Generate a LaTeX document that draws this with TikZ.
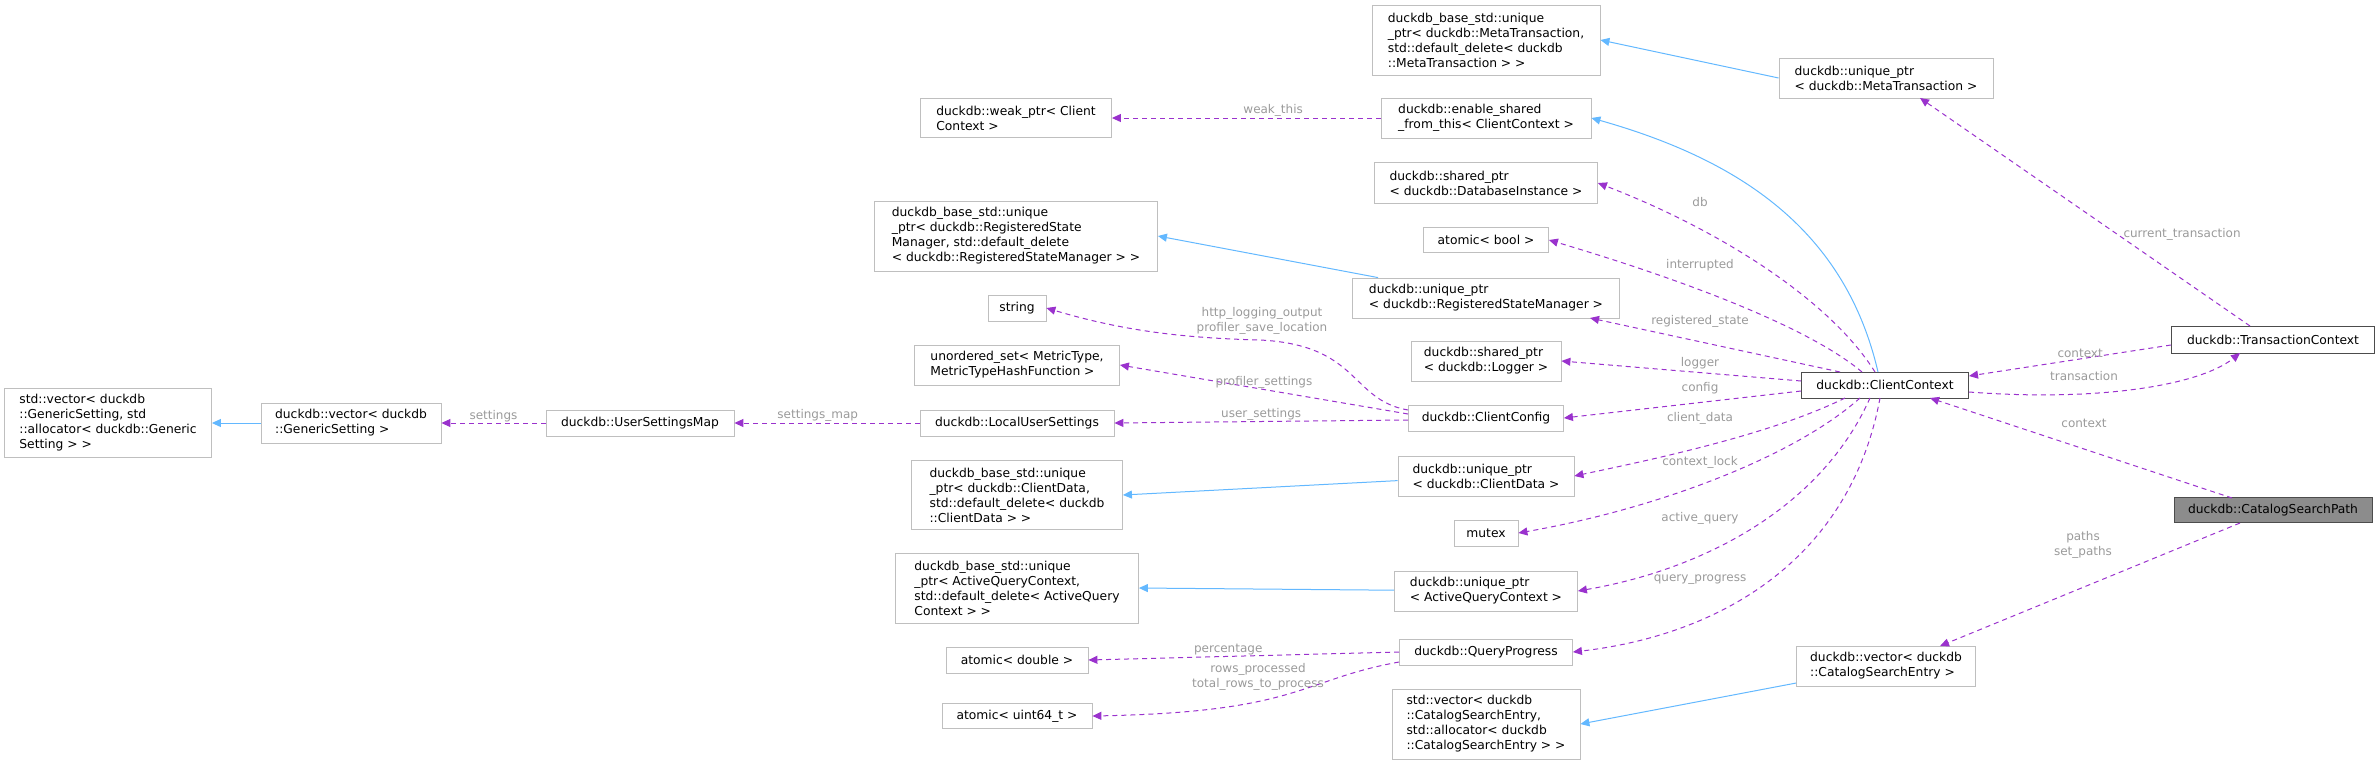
\documentclass[tikz,border=0pt]{standalone}
\usepackage{fontspec}
\setmainfont{DejaVu Sans}
\usetikzlibrary{arrows.meta}
\definecolor{inh}{HTML}{63B8FF}
\definecolor{use}{HTML}{9A32CD}
\definecolor{lbl}{HTML}{9A9A9A}
\definecolor{bd}{HTML}{BFBFBF}
\begin{document}
\begin{tikzpicture}[x=1pt,y=-1pt,
 box/.style={draw=bd,line width=0.8pt,fill=white,font=\fontsize{12.3}{15}\selectfont,align=left,inner sep=0pt},
 inhe/.style={draw=inh,line width=1pt,-{Triangle[length=9pt,width=8pt]}},
 usee/.style={draw=use,line width=1pt,dashed,dash pattern=on 5pt off 4pt,-{Triangle[length=9pt,width=8pt]}},
 lab/.style={text=lbl,font=\fontsize{12}{14.5}\selectfont,align=center,inner sep=1pt}]
\useasboundingbox (0,0) rectangle (2380,764);
\def\bx#1#2#3#4#5#6{\node[box,minimum width=#4pt,minimum height=#5pt] (#1) at (#2,#3) {#6};}
\bx{bm}{1486}{40}{228}{70}{duckdb\_base\_std::unique\\\_ptr< duckdb::MetaTransaction,\\std::default\_delete< duckdb\\::MetaTransaction > >}
\bx{upm}{1886}{78}{214}{40}{duckdb::unique\_ptr\\< duckdb::MetaTransaction >}
\bx{weak}{1016}{118}{191}{39}{duckdb::weak\_ptr< Client\\Context >}
\bx{esf}{1486}{118}{210}{40}{duckdb::enable\_shared\\\_from\_this< ClientContext >}
\bx{sdb}{1486}{183}{223}{41}{duckdb::shared\_ptr\\< duckdb::DatabaseInstance >}
\bx{abool}{1486}{240}{125}{25}{atomic< bool >}
\bx{brsm}{1016}{236}{283}{70}{duckdb\_base\_std::unique\\\_ptr< duckdb::RegisteredState\\Manager, std::default\_delete\\< duckdb::RegisteredStateManager > >}
\bx{ursm}{1486}{298}{267}{40}{duckdb::unique\_ptr\\< duckdb::RegisteredStateManager >}
\bx{str}{1017}{308}{58}{26}{string}
\bx{slog}{1486}{361}{150}{40}{duckdb::shared\_ptr\\< duckdb::Logger >}
\bx{uset}{1017}{365}{205}{40}{unordered\_set< MetricType,\\MetricTypeHashFunction >}
\bx{svgs}{108}{423}{207}{69}{std::vector< duckdb\\::GenericSetting, std\\::allocator< duckdb::Generic\\Setting > >}
\bx{dvgs}{351}{423}{180}{40}{duckdb::vector< duckdb\\::GenericSetting >}
\bx{usm}{640}{423}{188}{26}{duckdb::UserSettingsMap}
\bx{lus}{1017}{423}{194}{26}{duckdb::LocalUserSettings}
\bx{cc}{1486}{418}{155}{26}{duckdb::ClientConfig}
\node[box,draw=black!70,minimum width=167pt,minimum height=26pt] (ctx) at (1885,385) {duckdb::ClientContext};
\node[box,draw=black!70,minimum width=203pt,minimum height=27pt] (tc) at (2273,340) {duckdb::TransactionContext};
\node[box,draw=black!70,fill=black!45,minimum width=198pt,minimum height=25pt] (csp) at (2273,510) {duckdb::CatalogSearchPath};
\bx{bcd}{1017}{495}{211}{69}{duckdb\_base\_std::unique\\\_ptr< duckdb::ClientData,\\std::default\_delete< duckdb\\::ClientData > >}
\bx{ucd}{1486}{476}{176}{40}{duckdb::unique\_ptr\\< duckdb::ClientData >}
\bx{mtx}{1486}{533}{64}{26}{mutex}
\bx{baqc}{1017}{588}{243}{70}{duckdb\_base\_std::unique\\\_ptr< ActiveQueryContext,\\std::default\_delete< ActiveQuery\\Context > >}
\bx{uaqc}{1486}{591}{183}{40}{duckdb::unique\_ptr\\< ActiveQueryContext >}
\bx{adbl}{1017}{660}{142}{26}{atomic< double >}
\bx{qp}{1486}{652}{173}{26}{duckdb::QueryProgress}
\bx{au64}{1017}{716}{150}{25}{atomic< uint64\_t >}
\bx{vcse}{1886}{666}{179}{40}{duckdb::vector< duckdb\\::CatalogSearchEntry >}
\bx{scse}{1486}{724}{188}{70}{std::vector< duckdb\\::CatalogSearchEntry,\\std::allocator< duckdb\\::CatalogSearchEntry > >}
% inheritance
\draw[inhe] (upm.west) -- (bm.east);
\draw[inhe] (ursm) -- (brsm.east);
\draw[inhe] (dvgs) -- (svgs);
\draw[inhe] (ucd) -- (bcd.east);
\draw[inhe] (uaqc) -- (baqc.east);
\draw[inhe] (vcse) -- (scse.east);
\draw[inhe] (1878,372) .. controls (1845,230) and (1740,160) .. (esf.east);
% usage
\draw[usee] (esf) -- node[lab,above,pos=0.4]{weak\_this} (weak);
\draw[usee] (1875,372) .. controls (1830,300) and (1720,230) .. (sdb.east);
\draw[usee] (1862,372) .. controls (1800,320) and (1650,270) .. (abool.east);
\draw[usee] (1840,372) -- (1590,318);
\draw[usee] (ctx.west) ++(0,-4) -- (slog.east);
\draw[usee] (ctx.west) ++(0,6) -- (cc.east);
\draw[usee] (1845,398) .. controls (1770,435) and (1650,460) .. (ucd.east);
\draw[usee] (1860,398) .. controls (1790,460) and (1650,510) .. (mtx.east);
\draw[usee] (1870,398) .. controls (1820,510) and (1700,570) .. (uaqc.east);
\draw[usee] (1880,398) .. controls (1850,560) and (1720,635) .. (qp.east);
\node[lab] at (1700,202) {db};
\node[lab] at (1700,265) {interrupted};
\node[lab] at (1700,321) {registered\_state};
\node[lab] at (1700,363) {logger};
\node[lab] at (1700,388) {config};
\node[lab] at (1700,418) {client\_data};
\node[lab] at (1700,462) {context\_lock};
\node[lab] at (1700,518) {active\_query};
\node[lab] at (1700,580) {query\_progress};
\draw[usee] (1408,410) .. controls (1350,400) and (1360,345) .. (1260,340) .. controls (1180,338) and (1120,330) .. (str.east);
\node[lab] at (1262,321) {http\_logging\_output\\profiler\_save\_location};
\draw[usee] (1408,414) -- node[lab,above,pos=0.5]{profiler\_settings} (uset.east);
\draw[usee] (1408,420) -- node[lab,above,pos=0.5]{user\_settings} (lus.east);
\draw[usee] (lus) -- node[lab,above,pos=0.55]{settings\_map} (usm);
\draw[usee] (usm) -- node[lab,above,pos=0.5]{settings} (dvgs);
\draw[usee] (qp.west) -- node[lab,above,pos=0.55]{percentage} (adbl.east);
\draw[usee] (1399,662) .. controls (1300,680) and (1300,712) .. (au64.east);
\node[lab] at (1258,677) {rows\_processed\\total\_rows\_to\_process};
\draw[usee] (2250,326) -- node[lab,pos=0.4,right=4pt]{current\_transaction} (1920,98);
\draw[usee] (2171,345) -- node[lab,above,pos=0.45]{context} (1969,376);
\draw[usee] (1969,392) .. controls (2100,402) and (2200,385) .. (2240,353);
\node[lab] at (2084,376) {transaction};
\draw[usee] (2232,498) -- (1930,398);
\node[lab] at (2084,423) {context};
\draw[usee] (2240,523) -- (1940,646);
\node[lab] at (2083,545) {paths\\set\_paths};
\end{tikzpicture}
\end{document}
